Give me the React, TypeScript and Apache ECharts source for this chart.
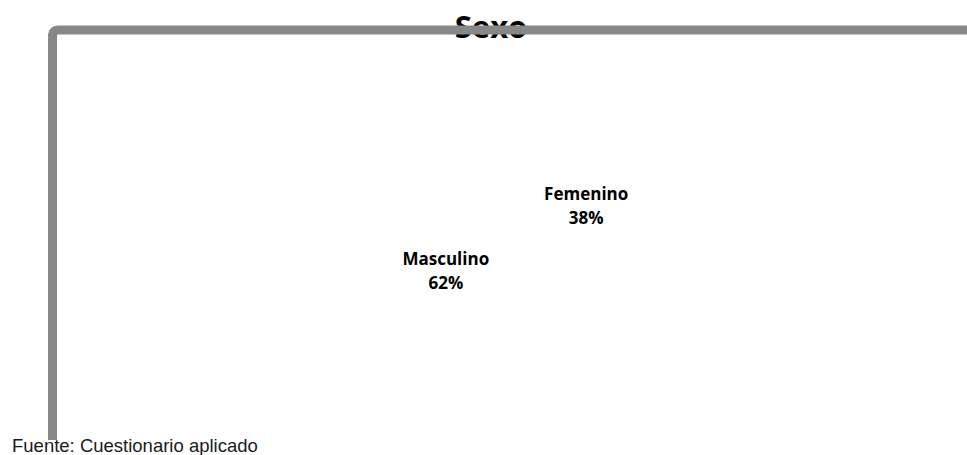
import React, { useEffect, useRef } from "react";
import * as echarts from "echarts";

const categories = ["Femenino", "Masculino"];
const percentages = [38, 62];
const chartTitle = "Sexo";
const sourceNote = "Fuente: Cuestionario aplicado";

export default function App() {
  const ref = useRef<HTMLDivElement>(null);

  useEffect(() => {
    if (!ref.current) return;
    const chart = echarts.init(ref.current, null, { renderer: "svg" });
    const data = categories.map((name, i) => ({ name, value: percentages[i] }));

    chart.setOption({
      animation: false,
      backgroundColor: "#ffffff",
      graphic: [
        // title sits beneath the frame line
        {
          type: "text",
          z: 1,
          x: 491,
          y: 26,
          style: {
            text: chartTitle,
            fontFamily: "Open Sans",
            fontWeight: "bold",
            fontSize: 31,
            fill: "#000000",
            textAlign: "center",
            textVerticalAlign: "middle",
          },
        },
        // frame (only top and left edges visible)
        {
          type: "rect",
          z: 5,
          shape: { x: 52.5, y: 30, width: 1100, height: 600, r: 5 },
          style: { fill: "none", stroke: "#878787", lineWidth: 9 },
        },
        {
          type: "rect",
          z: 6,
          shape: { x: 0, y: 440, width: 967, height: 20 },
          style: { fill: "#ffffff" },
        },
        {
          type: "text",
          z: 7,
          x: 12,
          y: 455,
          style: {
            text: sourceNote,
            fontFamily: "Liberation Sans",
            fontSize: 18.5,
            fill: "#1a1a1a",
            textVerticalAlign: "bottom",
          },
        },
      ],
      series: [
        {
          type: "pie",
          center: [516, 238],
          radius: 149,
          startAngle: 93.5,
          clockwise: true,
          silent: true,
          data,
          itemStyle: { color: "rgba(255,255,255,0)", borderWidth: 0 },
          emphasis: { disabled: true },
          labelLine: { show: false },
          label: {
            show: true,
            position: "inside",
            formatter: "{b}\n{d}%",
            fontFamily: "Open Sans",
            fontWeight: "bold",
            fontSize: 17,
            lineHeight: 24,
            color: "#000000",
            align: "center",
          },
        },
      ],
    });

    return () => chart.dispose();
  }, []);

  return (
    <div
      ref={ref}
      style={{ position: "absolute", left: 0, top: 0, width: 967, height: 455 }}
    />
  );
}
